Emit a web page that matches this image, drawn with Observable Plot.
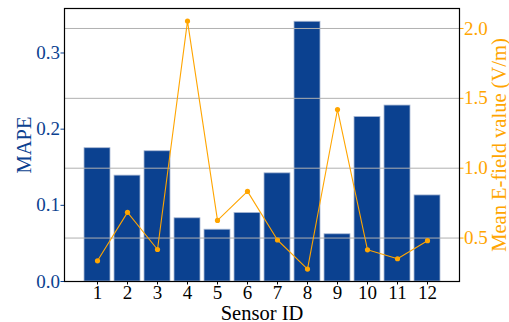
<!DOCTYPE html>
<html>
<head>
<meta charset="utf-8">
<script src="https://cdn.jsdelivr.net/npm/d3@7"></script>
<script src="https://cdn.jsdelivr.net/npm/@observablehq/plot@0.6"></script>
<style>
  html, body { margin: 0; padding: 0; background: #fff; }
  svg text { font-family: 'Liberation Serif', 'Times New Roman', serif; }
</style>
</head>
<body>
<div id="chart"></div>
<script>
const sensors = ["1","2","3","4","5","6","7","8","9","10","11","12"];
const mape = [0.175, 0.139, 0.171, 0.083, 0.068, 0.090, 0.142, 0.341, 0.062, 0.216, 0.231, 0.113];
const efield = [0.337, 0.684, 0.418, 2.053, 0.626, 0.834, 0.486, 0.278, 1.420, 0.416, 0.352, 0.481];
const leftTicks = [0, 0.1, 0.2, 0.3];
const rightTicks = [0.5, 1.0, 1.5, 2.0];
const leftDomain = [0, 0.3584];
const rightDomain = [0.189, 2.143];

const blue = "#0b4190";
const orange = "#FFA500";

// map right-axis values onto the left (MAPE) scale
const toLeft = d3.scaleLinear().domain(rightDomain).range(leftDomain);

const data = sensors.map((s, i) => ({sensor: s, mape: mape[i], ef: toLeft(efield[i])}));

const chart = Plot.plot({
  width: 509,
  height: 322,
  marginLeft: 64,
  marginRight: 50,
  marginTop: 8,
  marginBottom: 41,
  style: {fontFamily: "'Liberation Serif', 'Times New Roman', serif", fontSize: "19px", background: "#fff"},
  x: {domain: sensors, paddingInner: 0.15, paddingOuter: 0.575},
  y: {domain: leftDomain},
  marks: [
    Plot.barY(data, {x: "sensor", y: "mape", fill: blue, stroke: "#aab9d4", strokeWidth: 0.8}),
    Plot.gridY(rightTicks.map(toLeft), {stroke: "#b0b0b0", strokeOpacity: 1, strokeWidth: 1}),
    Plot.line(data, {x: "sensor", y: "ef", stroke: orange, strokeWidth: 1.1}),
    Plot.dot(data, {x: "sensor", y: "ef", fill: orange, r: 2.6}),
    Plot.axisY({anchor: "left", ticks: leftTicks, tickFormat: d3.format(".1f"), color: blue,
      fontSize: 19, tickSize: 3.5, tickPadding: 1, label: null}),
    Plot.axisY({anchor: "left", ticks: [], label: "MAPE", labelAnchor: "center", labelArrow: "none",
      labelOffset: 48, fontSize: 20.5, color: blue}),
    Plot.axisY(rightTicks.map(toLeft), {anchor: "right", tickFormat: d => d3.format(".1f")(toLeft.invert(d)), color: orange,
      fontSize: 19, tickSize: 3.5, tickPadding: 1, label: null}),
    Plot.axisY({anchor: "right", ticks: [], label: "Mean E-field value (V/m)", labelAnchor: "center", labelArrow: "none",
      labelOffset: 46, fontSize: 20.5, color: orange}),
    Plot.axisX({anchor: "bottom", tickSize: 3.5, tickPadding: 0, fontSize: 19, color: "black", label: null}),
    Plot.axisX({anchor: "bottom", ticks: [], label: "Sensor ID", labelAnchor: "center", labelArrow: "none",
      labelOffset: 38, fontSize: 20.5, color: "black"}),
    Plot.frame({stroke: "black", strokeWidth: 1.2})
  ]
});
document.getElementById("chart").appendChild(chart);
</script>
</body>
</html>
